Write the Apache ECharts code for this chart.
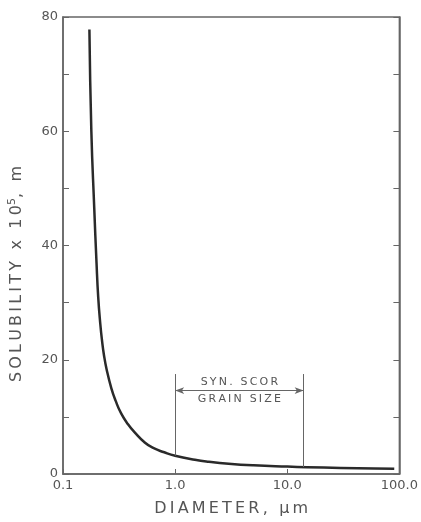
<!DOCTYPE html>
<html>
<head>
<meta charset="utf-8">
<script src="https://cdn.jsdelivr.net/npm/echarts@6/dist/echarts.min.js"></script>
<style>
  html, body { margin: 0; padding: 0; background: #fff; }
  #chart { width: 421px; height: 522px; }
</style>
</head>
<body>
<div id="chart"></div>
<script>
// diameter (um) and solubility (x 10^5 m)
const diameters = [0.172, 0.179, 0.19, 0.199, 0.206, 0.215, 0.223, 0.232, 0.245, 0.27, 0.295, 0.33, 0.38, 0.44, 0.53, 0.63, 0.8, 1.0, 1.5, 2, 3, 5, 10, 15, 30, 60, 90];
const solubility = [77.8, 60, 46.5, 37, 31, 26.3, 23.3, 20.8, 18.3, 15, 12.8, 10.6, 8.7, 7.2, 5.6, 4.6, 3.8, 3.2, 2.5, 2.15, 1.8, 1.52, 1.3, 1.2, 1.05, 0.95, 0.9];

// bracket for the syn. scor grain size range
const grainRange = [1.0, 14];
const grainBase = [3.2, 1.22];
const bracketTop = 17.5;
const arrowLevel = 14.6;
const bracketText = ['SYN. SCOR', 'GRAIN SIZE'];

const xTicks = [0.1, 1, 10, 100];

const frame = '#666';
const ink = '#555';
const font = 'DejaVu Sans';

// the original lettering is widely spaced
const spaced = (s) => s.replace(/(\S)(?=\S)/g, '$1\u2009').replace(/ /g, '\u2009 \u2009');

const chart = echarts.init(document.getElementById('chart'));

const curve = diameters.map((d, i) => [d, solubility[i]]);

const bracketLabel = (text, position) => [
  {
    coord: [grainRange[0], arrowLevel],
    lineStyle: { color: 'rgba(0,0,0,0)' },
    label: {
      show: true, position, distance: 3,
      formatter: spaced(text),
      fontFamily: font, fontSize: 11, color: ink,
    },
  },
  { coord: [grainRange[1], arrowLevel] },
];

chart.setOption({
  animation: false,
  backgroundColor: '#fff',
  grid: {
    left: 63, top: 17, right: 13, bottom: 48,
    show: true, borderColor: frame, borderWidth: 1.5,
  },
  xAxis: {
    type: 'log',
    logBase: 10,
    min: xTicks[0],
    max: xTicks[xTicks.length - 1],
    name: spaced('DIAMETER, μm'),
    nameLocation: 'middle',
    nameGap: 27,
    nameTextStyle: { fontFamily: font, fontSize: 16, color: ink },
    axisLine: { lineStyle: { color: frame, width: 1.5 } },
    axisTick: { inside: true, length: 5, lineStyle: { color: frame } },
    axisLabel: {
      fontFamily: font, fontSize: 13, color: ink, margin: 5,
      formatter: (v) => Number(v).toFixed(1),
    },
    splitLine: { show: false },
    minorTick: { show: false },
  },
  yAxis: [
    {
      type: 'value',
      min: 0, max: 80, interval: 10,
      axisLine: { show: true, lineStyle: { color: frame, width: 1.5 } },
      axisTick: { inside: true, length: 6, lineStyle: { color: frame } },
      axisLabel: {
        fontFamily: font, fontSize: 13, color: ink, margin: 5,
        formatter: (v) => (v % 20 === 0 ? String(v) : ''),
      },
      splitLine: { show: false },
    },
    {
      type: 'value',
      position: 'right',
      min: 0, max: 80, interval: 10,
      axisLine: { show: true, lineStyle: { color: frame, width: 1.5 } },
      axisTick: { inside: true, length: 6, lineStyle: { color: frame } },
      axisLabel: { show: false },
      splitLine: { show: false },
    },
  ],
  graphic: [
    {
      type: 'text',
      x: 17, y: 274,
      rotation: Math.PI / 2,
      style: {
        text: spaced('SOLUBILITY x 10') + '{s|5}' + spaced(', m'),
        fontFamily: font, fontSize: 16, fill: ink, lineHeight: 20,
        align: 'center', verticalAlign: 'middle',
        rich: {
          s: { fontFamily: font, fontSize: 11, fill: ink, lineHeight: 11, verticalAlign: 'top' },
        },
      },
    },
  ],
  series: [
    {
      type: 'line',
      data: curve,
      showSymbol: false,
      smooth: 0.5,
      lineStyle: { color: '#2a2a2a', width: 2.5, join: 'round' },
      markLine: {
        silent: true,
        symbol: 'none',
        lineStyle: { color: frame, width: 1, type: 'solid' },
        label: { show: false },
        data: [
          [{ coord: [grainRange[0], grainBase[0]] }, { coord: [grainRange[0], bracketTop] }],
          [{ coord: [grainRange[1], grainBase[1]] }, { coord: [grainRange[1], bracketTop] }],
          [
            { coord: [grainRange[0], arrowLevel], symbol: 'arrow', symbolSize: [5, 9] },
            { coord: [grainRange[1], arrowLevel], symbol: 'arrow', symbolSize: [5, 9] },
          ],
          bracketLabel(bracketText[0], 'insideMiddleTop'),
          bracketLabel(bracketText[1], 'insideMiddleBottom'),
        ],
      },
    },
  ],
});
</script>
</body>
</html>
